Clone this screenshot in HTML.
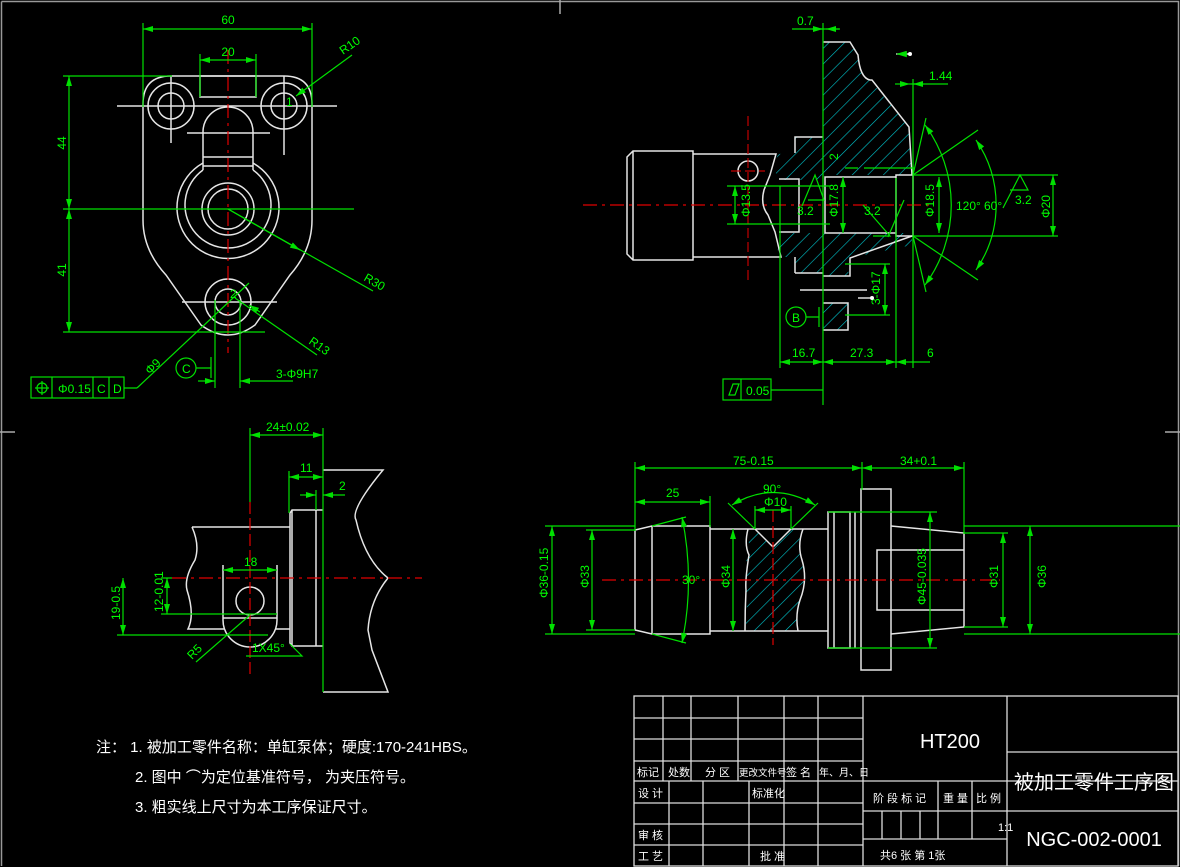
<!DOCTYPE html>
<html><head><meta charset="utf-8"><style>
html,body{margin:0;padding:0;background:#000;width:1180px;height:867px;overflow:hidden}
svg{display:block}
.w{stroke:#e6e6e6;stroke-width:1.5;fill:none}
.g{stroke:#00e000;stroke-width:1.2;fill:none}
.r{stroke:#e00000;stroke-width:1.2;fill:none;stroke-dasharray:14 5 3 5}
.t{fill:#00ff00;font-family:"Liberation Sans",sans-serif;font-size:12px}
.c{fill:#fff;font-family:"Liberation Sans","Noto Sans CJK SC",sans-serif}
.tb{stroke:#ddd;stroke-width:1.3;fill:none}
</style></head><body>
<svg width="1180" height="867" viewBox="0 0 1180 867" xmlns="http://www.w3.org/2000/svg">
<defs>
<pattern id="h" width="11" height="11" patternUnits="userSpaceOnUse" patternTransform="rotate(45)">
<line x1="0" y1="0" x2="0" y2="11" stroke="#00c8d0" stroke-width="1.2"/></pattern>
<marker id="a" viewBox="0 0 10 6" refX="10" refY="3" markerWidth="9" markerHeight="5" orient="auto-start-reverse"><path d="M0,0L10,3L0,6z" fill="#00e000"/></marker>
</defs>
<rect x="0" y="0" width="1180" height="867" fill="#000"/>
<path d="M1.5,1.5H1178.5V866M1.5,1.5V866" stroke="#999" stroke-width="1.5" fill="none"/>
<path d="M560,0V14M0,432H15M1165,432H1180" stroke="#aaa" stroke-width="1.5"/>

<!-- ===== TOP LEFT VIEW ===== -->
<g>
<path class="w" d="M143,104 Q143,76 171,76 H284 Q312,76 312,104 V220 Q312,250 290,275 L255,325 Q228,345 201,325 L166,275 Q143,250 143,220 Z"/>
<rect class="w" x="200" y="76" width="56" height="21"/>
<circle class="w" cx="171" cy="106" r="23"/><circle class="w" cx="171" cy="106" r="13"/>
<circle class="w" cx="284" cy="106" r="23"/><circle class="w" cx="284" cy="106" r="13"/>
<path class="w" d="M117,106H337M171,76V143M284,76V155M187,133H270"/>
<path class="w" d="M203,170V132A25,25 0 0 1 253,132V170M203,157H253M203,166H253"/>
<path class="w" d="M203,163 A51,51 0 1 0 253,163"/>
<path class="w" d="M203,170 A43,43 0 1 0 253,170"/>
<circle class="w" cx="228" cy="209" r="26" stroke-width="2"/><circle class="w" cx="228" cy="209" r="20"/>
<circle class="w" cx="228" cy="302" r="23"/><circle class="w" cx="228" cy="302" r="13"/>
<path class="w" d="M182,302H277"/>
<path class="r" d="M228,50V353"/>
<path class="g" d="M63,209H354M63,76H172M63,332H265M143,23V107M312,23V107M200,54V97M256,54V97"/>
<path class="g" d="M143,29H312" marker-start="url(#a)" marker-end="url(#a)"/>
<path class="g" d="M200,60H256" marker-start="url(#a)" marker-end="url(#a)"/>
<path class="g" d="M69,76V209" marker-start="url(#a)" marker-end="url(#a)"/>
<path class="g" d="M69,209V332" marker-start="url(#a)" marker-end="url(#a)"/>
<text class="t" x="228" y="24" text-anchor="middle">60</text>
<text class="t" x="228" y="56" text-anchor="middle">20</text>
<text class="t" transform="translate(66,143) rotate(-90)" text-anchor="middle">44</text>
<text class="t" transform="translate(66,270) rotate(-90)" text-anchor="middle">41</text>
<path class="g" d="M352,55L296,96" marker-end="url(#a)"/>
<text class="t" transform="translate(343,55) rotate(-35)">R10</text>
<path class="g" d="M228,209L373,291" />
<path class="g" d="M228,209L300,250" marker-end="url(#a)"/>
<text class="t" transform="translate(363,280) rotate(30)">R30</text>
<path class="g" d="M235,298L317,355M260,312L249,305" marker-end="url(#a)"/>
<text class="t" transform="translate(308,343) rotate(35)">R13</text>
<path class="g" d="M137,388L249,283"/>
<text class="t" transform="translate(150,375) rotate(-45)">Φ9</text>
<text class="t" x="286" y="106" font-size="15">1</text>
<text class="t" x="230" y="298" font-size="15">2</text>
<path class="g" d="M215,300V388M240,300V388"/>
<path class="g" d="M198,381H215" marker-end="url(#a)"/>
<path class="g" d="M293,381H240" marker-end="url(#a)"/>
<text class="t" x="276" y="378">3-Φ9H7</text>
<circle class="g" cx="186" cy="368" r="10"/><text class="t" x="182" y="373" font-size="11">C</text>
<path class="g" d="M196,368H211M211,357V378"/>
<rect class="g" x="31" y="377" width="93" height="21"/>
<path class="g" d="M52,377V398M93,377V398M109,377V398M124,388H137"/>
<circle class="g" cx="42" cy="388" r="5"/><path class="g" d="M35,388H49M42,381V395"/>
<text class="t" x="58" y="393">Φ0.15</text><text class="t" x="97" y="393">C</text><text class="t" x="113" y="393">D</text>
</g>

<!-- ===== TOP RIGHT VIEW ===== -->
<g>
<path d="M823,42H850L858,55Q860,78 870,80L909,127L912,175H823Z" fill="url(#h)"/>
<path d="M823,137H795V153L778,154L772,170L784,180H823Z" fill="url(#h)"/>
<path d="M823,233H784L775,257H795V273H823Z" fill="url(#h)"/>
<path d="M823,233H912V245L850,258L848,276H823Z" fill="url(#h)"/>
<path d="M823,303H848V330H823Z" fill="url(#h)"/>
<path class="w" d="M823,42H850L858,55Q860,78 870,80H872L909,127L912,175M912,236L850,258V276H823M823,303H848V330H823"/>
<path class="w" d="M823,137H795V153M795,273V257M795,273H823"/>
<path class="w" d="M627,157L633,151H693V260H633L627,254ZM633,151V260M693,154H776L770,175L764,190Q760,205 768,215L775,232L781,257H693"/>
<path class="w" d="M779,179H799V232H779"/>
<path class="w" d="M825,177H896V233H825ZM896,175H913V236H896Z"/>
<path class="w" d="M800,290H867"/>
<circle class="w" cx="748" cy="171" r="10"/>
<path d="M731,171H765M748,116V282" stroke="#c00000" stroke-width="1.2" stroke-dasharray="10 4"/>
<path class="r" d="M583,205H930"/>
<path class="g" d="M823,23V405M780,186V368M896,178V368M913,79V368M910,84H915M727,186H830M727,224H830M913,175H1058M913,236H1058M845,168H858"/>
<path class="g" d="M812,29H823" marker-end="url(#a)"/><path class="g" d="M839,29H826" marker-end="url(#a)"/><path class="g" d="M792,29H840"/>
<text class="t" x="797" y="25">0.7</text>
<path class="g" d="M895,84H910" marker-end="url(#a)"/><path class="g" d="M948,84H913" marker-end="url(#a)"/>
<text class="t" x="929" y="80">1.44</text>
<path class="g" d="M780,362H823" marker-start="url(#a)" marker-end="url(#a)"/>
<path class="g" d="M823,362H896" marker-start="url(#a)" marker-end="url(#a)"/>
<path class="g" d="M896,362H930" marker-start="url(#a)"/>
<text class="t" x="792" y="357">16.7</text><text class="t" x="850" y="357">27.3</text><text class="t" x="927" y="357">6</text>
<path class="g" d="M735,186V224" marker-start="url(#a)" marker-end="url(#a)"/>
<text class="t" transform="translate(750,217) rotate(-90)">Φ13.5</text>
<path class="g" d="M843,177V233" marker-start="url(#a)" marker-end="url(#a)"/>
<text class="t" transform="translate(838,217) rotate(-90)">Φ17.8</text>
<path class="g" d="M939,177V233" marker-start="url(#a)" marker-end="url(#a)"/>
<text class="t" transform="translate(934,217) rotate(-90)">Φ18.5</text>
<path class="g" d="M1053,175V236" marker-start="url(#a)" marker-end="url(#a)"/>
<text class="t" transform="translate(1050,218) rotate(-90)">Φ20</text>
<path class="g" d="M913,175L926,118M913,236L926,292M913,175L978,130M913,236L978,280"/>
<path class="g" d="M925,125A135,135 0 0 1 925,285" marker-start="url(#a)" marker-end="url(#a)"/>
<path class="g" d="M976,140A115,115 0 0 1 976,270" marker-start="url(#a)" marker-end="url(#a)"/>
<text class="t" x="956" y="210">120°</text><text class="t" x="984" y="210">60°</text>
<path class="g" d="M802,206L815,175L824,200H808"/><text class="t" x="797" y="215">3.2</text>
<path class="g" d="M863,205L890,236L873,236M888,237L904,200"/><text class="t" x="864" y="215">3.2</text>
<path class="g" d="M1003,208L1020,175L1028,190H1010"/><text class="t" x="1015" y="204">3.2</text>
<path class="g" d="M864,168H914" /><text class="t" transform="translate(838,160) rotate(-90)">2</text>
<path class="g" d="M845,264H890M845,315H890"/>
<path class="g" d="M885,264V315" marker-start="url(#a)" marker-end="url(#a)"/>
<text class="t" transform="translate(880,305) rotate(-90)">3-Φ17</text>
<path d="M910,54L896,54" stroke="#fff" stroke-width="1.3" marker-end="url(#a)"/><circle cx="910" cy="54" r="2" fill="#fff"/>
<path d="M872,298L858,298" stroke="#fff" stroke-width="1.3"/><circle cx="872" cy="298" r="2" fill="#fff"/>
<circle class="g" cx="796" cy="317" r="10"/><text class="t" x="792" y="322" font-size="11">B</text>
<path class="g" d="M806,317H819M819,307V327"/>
<rect class="g" x="723" y="379" width="48" height="21"/><path class="g" d="M741,379V400M771,390H823"/>
<path class="g" d="M729,395L733,384H739L735,395Z"/><text class="t" x="746" y="395">0.05</text>
</g>

<!-- ===== BOTTOM LEFT VIEW ===== -->
<g>
<path class="w" d="M323,470H383Q350,510 356,520Q365,560 388,578Q370,600 368,630L372,650L388,692H323"/>
<path class="w" d="M290,513L292,510H323M292,510V646H323M290,513V643L292,646M316,510V646"/>
<path class="w" d="M192,527H290M192,527Q200,545 195,560Q184,578 187,590Q195,615 188,629H225M275,629H290"/>
<path class="w" d="M223,565V620A27,27 0 0 0 277,620V565M223,618H277"/>
<circle class="w" cx="250" cy="601" r="14"/>
<path class="r" d="M172,578H422"/>
<path d="M250,502V675" stroke="#e00000" stroke-width="1.2" stroke-dasharray="12 4"/>
<path class="g" d="M250,428V502M323,428V692M289,471V513M316,490V510M161,614H277M117,635H268M161,578H172"/>
<path class="g" d="M250,435H323" marker-start="url(#a)" marker-end="url(#a)"/>
<text class="t" x="266" y="431">24±0.02</text>
<path class="g" d="M289,477H323" marker-start="url(#a)" marker-end="url(#a)"/>
<text class="t" x="300" y="472">11</text>
<path class="g" d="M300,495H316" marker-end="url(#a)"/><path class="g" d="M345,495H323" marker-end="url(#a)"/>
<text class="t" x="339" y="490">2</text>
<path class="g" d="M223,570H277" marker-start="url(#a)" marker-end="url(#a)"/>
<text class="t" x="244" y="566">18</text>
<path class="g" d="M123,578V635" marker-start="url(#a)" marker-end="url(#a)"/>
<text class="t" transform="translate(120,620) rotate(-90)" font-size="10">19-0.5</text>
<path class="g" d="M167,578V614" marker-start="url(#a)" marker-end="url(#a)"/>
<text class="t" transform="translate(163,612) rotate(-90)" font-size="9">12-0.01</text>
<path class="g" d="M196,662L250,615"/><text class="t" transform="translate(192,660) rotate(-45)">R5</text>
<path class="g" d="M246,656H302L290,644"/><text class="t" x="252" y="652">1X45°</text>
</g>

<!-- ===== BOTTOM RIGHT VIEW ===== -->
<g>
<path d="M748,529H755L773,547L791,529H803Q797,545 802,560Q808,580 800,600Q795,615 798,631H745Q748,610 746,590Q745,560 749,545Z" fill="url(#h)"/>
<path class="w" d="M748,529Q744,545 749,555Q745,580 746,590Q745,610 745,631M803,529Q797,545 802,560Q808,580 800,600Q795,615 798,631"/>
<path class="w" d="M755,529L773,547L791,529"/>
<path class="w" d="M635,530L652,526H710V634H652L635,630ZM652,526V634M710,529H828M710,631H828"/>
<path class="w" d="M828,512H850V648H828ZM834,512V648M855,512V648M861,489H891V670H861Z"/>
<path class="w" d="M891,526L964,533V627L891,634M877,550H964V610H877Z"/>
<path class="r" d="M602,580H1000"/>
<path d="M773,510V645" stroke="#e00000" stroke-width="1.2" stroke-dasharray="12 4"/>
<path class="g" d="M635,462V531M862,462V490M964,462V534M710,496V527M545,526H635M545,634H635M586,530H635M586,630H635M828,512H937M828,648H937M964,526H1180M964,634H1180M964,533H1008M964,627H1008"/>
<path class="g" d="M635,468H862" marker-start="url(#a)" marker-end="url(#a)"/>
<path class="g" d="M862,468H964" marker-start="url(#a)" marker-end="url(#a)"/>
<text class="t" x="733" y="465">75-0.15</text><text class="t" x="900" y="465">34+0.1</text>
<path class="g" d="M635,502H710" marker-start="url(#a)" marker-end="url(#a)"/>
<text class="t" x="666" y="497">25</text>
<path class="g" d="M552,526V634" marker-start="url(#a)" marker-end="url(#a)"/>
<text class="t" transform="translate(548,598) rotate(-90)" font-size="10">Φ36-0.15</text>
<path class="g" d="M592,530V630" marker-start="url(#a)" marker-end="url(#a)"/>
<text class="t" transform="translate(589,588) rotate(-90)">Φ33</text>
<path class="g" d="M733,529V631" marker-start="url(#a)" marker-end="url(#a)"/>
<text class="t" transform="translate(730,588) rotate(-90)">Φ34</text>
<path class="g" d="M930,512V648" marker-start="url(#a)" marker-end="url(#a)"/>
<text class="t" transform="translate(926,605) rotate(-90)" font-size="10">Φ45-0.035</text>
<path class="g" d="M1003,533V627" marker-start="url(#a)" marker-end="url(#a)"/>
<text class="t" transform="translate(998,588) rotate(-90)">Φ31</text>
<path class="g" d="M1030,526V634" marker-start="url(#a)" marker-end="url(#a)"/>
<text class="t" transform="translate(1046,588) rotate(-90)">Φ36</text>
<path class="g" d="M652,526L686,517M652,634L686,643"/>
<path class="g" d="M682,517Q695,580 682,643" marker-start="url(#a)" marker-end="url(#a)"/>
<text class="t" x="682" y="584">30°</text>
<path class="g" d="M755,529L728,503M791,529L818,503M755,506V529M791,506V529"/>
<path class="g" d="M732,505Q773,480 815,505" marker-start="url(#a)" marker-end="url(#a)"/>
<text class="t" x="763" y="493">90°</text>
<path class="g" d="M755,510H791" marker-start="url(#a)" marker-end="url(#a)"/>
<text class="t" x="764" y="506">Φ10</text>
</g>

<!-- ===== NOTES ===== -->
<g class="c" font-size="15">
<text x="96" y="752">注：  1. 被加工零件名称：单缸泵体；硬度:170-241HBS。</text>
<text x="135" y="782">2. 图中   ⌒为定位基准符号，  为夹压符号。</text>
<text x="135" y="812">3. 粗实线上尺寸为本工序保证尺寸。</text>
</g>

<!-- ===== TITLE BLOCK ===== -->
<g>
<rect class="tb" x="634" y="696" width="544" height="170"/>
<path class="tb" d="M634,718H863M634,739H863M634,761H863M634,781H1178M634,803H863M634,824H863M634,845H863"/>
<path class="tb" d="M663,696V781M691,696V781M738,696V781M784,696V866M818,696V866M863,696V866M1007,696V866"/>
<path class="tb" d="M669,781V866M703,781V866M749,781V866"/>
<path class="tb" d="M863,811H1007M863,839H1007M938,781V839M972,781V839M882,811V839M901,811V839M920,811V839M1007,752H1178M1007,811H1178"/>
<g class="c" font-size="11">
<text x="637" y="776">标记</text><text x="668" y="776">处数</text><text x="705" y="776">分 区</text><text x="739" y="776" font-size="9.5">更改文件号</text><text x="786" y="776">签 名</text><text x="819" y="776" font-size="10">年、月、日</text>
<text x="638" y="797">设 计</text><text x="752" y="797">标准化</text>
<text x="638" y="839">审 核</text><text x="638" y="860">工 艺</text><text x="760" y="860">批 准</text>
<text x="873" y="802">阶 段 标 记</text><text x="943" y="802">重 量</text><text x="976" y="802">比 例</text>
<text x="998" y="831">1:1</text>
<text x="880" y="859">共6   张   第   1张</text>
</g>
<text class="c" x="950" y="748" font-size="20" text-anchor="middle">HT200</text>
<text class="c" x="1094" y="789" font-size="20" text-anchor="middle">被加工零件工序图</text>
<text class="c" x="1094" y="846" font-size="20" text-anchor="middle">NGC-002-0001</text>
</g>
</svg>
</body></html>
